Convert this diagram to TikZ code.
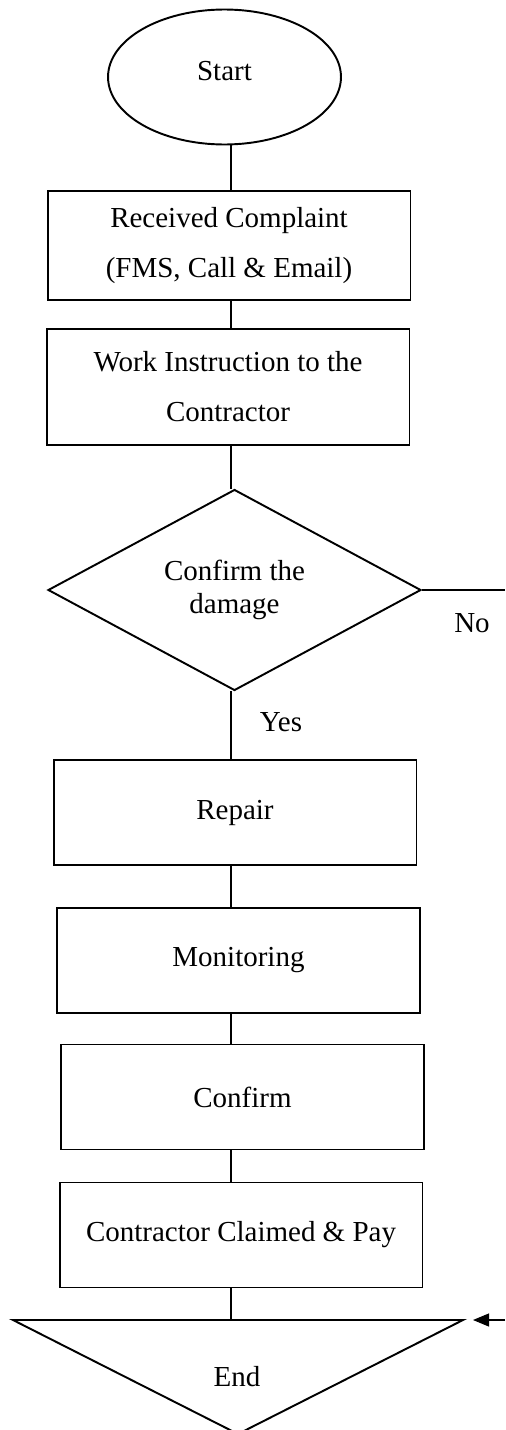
\documentclass[tikz,border=0pt]{standalone}
\usepackage{fontspec}
\setmainfont{Liberation Serif}
\usetikzlibrary{positioning,arrows.meta,shapes.geometric}
\tikzset{
  proc/.style={draw,rectangle,line width=1.1pt,minimum width=7.26cm,minimum height=2.1cm,align=center,font=\fontsize{16.5}{28.4}\selectfont},
  term/.style={draw,ellipse,line width=1.1pt,minimum width=4.66cm,minimum height=2.7cm,text depth=0.24cm,font=\fontsize{16.5}{20}\selectfont},
  decis/.style={draw,diamond,line width=1.1pt,minimum width=7.46cm,minimum height=4.02cm,inner sep=0pt,align=center,font=\fontsize{16.5}{19}\selectfont},
  conn/.style={line width=0.6pt},
  lab/.style={font=\fontsize{16.5}{20}\selectfont}
}
\begin{document}
\begin{tikzpicture}[x=0.02cm,y=-0.02cm]
  \useasboundingbox (0,0) rectangle (505,1430);
  \coordinate (spine) at (231,0);
  \node[term] (start) at (224.5,77) {Start};
  \node[proc,minimum height=2.18cm] (recv) at (229,245.5) {Received Complaint\\(FMS, Call \& Email)};
  \node[proc,minimum height=2.32cm] (instr) at (228,387) {Work Instruction to the\\Contractor};
  \node[decis] (check) at (234.5,590) {Confirm the\\damage};
  \node[proc] (repair) at (235,812.5) {Repair};
  \node[proc] (monit) at (238.5,960.5) {Monitoring};
  \node[proc] (conf) at (242.5,1097) {Confirm};
  \node[proc] (claim) at (241,1235) {Contractor Claimed \& Pay};
  \coordinate (endL) at (13,1320); \coordinate (endR) at (463,1320); \coordinate (endB) at (238,1434);
  \draw[line width=1.1pt] (endL) -- (endR) -- (endB) -- cycle;
  \node[lab] (endtxt) at (237,1377) {End};
  \draw[conn] (spine |- start.south) -- (spine |- recv.north);
  \draw[conn] (spine |- recv.south) -- (spine |- instr.north);
  \draw[conn] (spine |- instr.south) -- (spine |- check.north);
  \draw[conn] (spine |- check.south) -- (spine |- repair.north);
  \draw[conn] (spine |- repair.south) -- (spine |- monit.north);
  \draw[conn] (spine |- monit.south) -- (spine |- conf.north);
  \draw[conn] (spine |- conf.south) -- (spine |- claim.north);
  \draw[conn] (spine |- claim.south) -- (spine |- endL);
  \coordinate (noR) at (505,590); \draw[conn] (check.east) -- (noR);
  \node[lab] (yes) at (281,722) {Yes}; \node[lab] (no) at (472,623) {No};
  \coordinate (retR) at (505,1320); \coordinate (retT) at (473,1320);
  \draw[conn,-{Triangle[length=0.32cm,width=0.26cm]}] (retR) -- (retT);
\end{tikzpicture}
\end{document}
